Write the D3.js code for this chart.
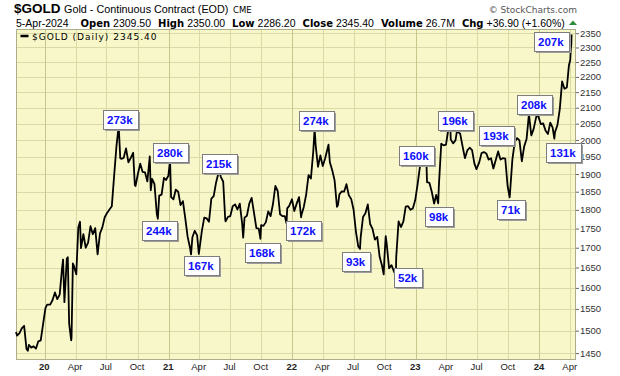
<!DOCTYPE html>
<html lang="en">
<head>
	<meta charset="UTF-8"/>
	<title>$GOLD Daily</title>
	<script src="https://d3js.org/d3.v7.min.js"></script>
	<style>
		body { margin: 0; background: #fff; }
		svg text { font-family: "Liberation Sans", Arial, sans-serif; }
	</style>
</head>
<body>
<svg id="chart"></svg>
<script>
	var w = 620;
	var h = 376;

	// weekly closes plus the daily highs/lows that matter
	var dates = [
		"2019-10-08","2019-10-11","2019-10-18","2019-10-25","2019-11-01","2019-11-08","2019-11-12","2019-11-15","2019-11-22","2019-11-29",
		"2019-12-06","2019-12-13","2019-12-20","2019-12-27",
		"2020-01-03","2020-01-08","2020-01-10","2020-01-17","2020-01-24","2020-01-31","2020-02-07","2020-02-14","2020-02-21","2020-02-24",
		"2020-02-28","2020-03-06","2020-03-09","2020-03-13","2020-03-19","2020-03-20","2020-03-24","2020-03-27","2020-04-03","2020-04-09",
		"2020-04-14","2020-04-17","2020-04-24","2020-05-01","2020-05-08","2020-05-15","2020-05-22","2020-05-29","2020-06-05","2020-06-12",
		"2020-06-19","2020-06-26","2020-07-02","2020-07-10","2020-07-17","2020-07-24","2020-07-31","2020-08-06","2020-08-07","2020-08-11",
		"2020-08-14","2020-08-21","2020-08-28","2020-09-04","2020-09-11","2020-09-18","2020-09-23","2020-09-25","2020-10-02","2020-10-09",
		"2020-10-16","2020-10-23","2020-10-30","2020-11-06","2020-11-09","2020-11-13","2020-11-20","2020-11-27","2020-11-30","2020-12-04",
		"2020-12-11","2020-12-18","2020-12-24","2020-12-31",
		"2021-01-05","2021-01-08","2021-01-15","2021-01-22","2021-01-29","2021-02-05","2021-02-12","2021-02-19","2021-02-26","2021-03-05",
		"2021-03-08","2021-03-12","2021-03-19","2021-03-26","2021-03-31","2021-04-09","2021-04-16","2021-04-23","2021-04-30","2021-05-07",
		"2021-05-14","2021-05-21","2021-05-28","2021-06-01","2021-06-04","2021-06-11","2021-06-17","2021-06-18","2021-06-25","2021-07-02",
		"2021-07-09","2021-07-16","2021-07-23","2021-07-30","2021-08-06","2021-08-09","2021-08-13","2021-08-20","2021-08-27","2021-09-03",
		"2021-09-10","2021-09-17","2021-09-24","2021-09-29","2021-10-01","2021-10-08","2021-10-15","2021-10-22","2021-10-29","2021-11-05",
		"2021-11-12","2021-11-19","2021-11-26","2021-12-03","2021-12-10","2021-12-15","2021-12-17","2021-12-23","2021-12-31",
		"2022-01-07","2022-01-14","2022-01-21","2022-01-27","2022-01-28","2022-02-04","2022-02-11","2022-02-18","2022-02-25","2022-03-04",
		"2022-03-08","2022-03-11","2022-03-18","2022-03-25","2022-04-01","2022-04-08","2022-04-18","2022-04-22","2022-04-29","2022-05-06",
		"2022-05-13","2022-05-16","2022-05-20","2022-05-27","2022-06-03","2022-06-10","2022-06-17","2022-06-24","2022-07-01","2022-07-08",
		"2022-07-15","2022-07-20","2022-07-22","2022-07-29","2022-08-05","2022-08-12","2022-08-19","2022-08-26","2022-09-02","2022-09-09",
		"2022-09-16","2022-09-23","2022-09-28","2022-09-30","2022-10-04","2022-10-07","2022-10-14","2022-10-21","2022-10-28","2022-11-03",
		"2022-11-04","2022-11-11","2022-11-18","2022-11-25","2022-12-02","2022-12-09","2022-12-16","2022-12-23","2022-12-30",
		"2023-01-06","2023-01-13","2023-01-20","2023-01-26","2023-02-01","2023-02-03","2023-02-10","2023-02-17","2023-02-24","2023-03-02",
		"2023-03-08","2023-03-10","2023-03-17","2023-03-24","2023-03-31","2023-04-06","2023-04-13","2023-04-14","2023-04-21","2023-04-28",
		"2023-05-04","2023-05-05","2023-05-12","2023-05-19","2023-05-26","2023-06-02","2023-06-09","2023-06-16","2023-06-23","2023-06-29",
		"2023-07-07","2023-07-14","2023-07-21","2023-07-28","2023-08-04","2023-08-11","2023-08-18","2023-08-25","2023-09-01","2023-09-08",
		"2023-09-15","2023-09-22","2023-09-29","2023-10-05","2023-10-06","2023-10-13","2023-10-20","2023-10-27","2023-11-03","2023-11-10",
		"2023-11-17","2023-11-24","2023-12-01","2023-12-08","2023-12-15","2023-12-22","2023-12-27","2023-12-29",
		"2024-01-05","2024-01-12","2024-01-19","2024-01-26","2024-02-02","2024-02-09","2024-02-14","2024-02-16","2024-02-23","2024-03-01",
		"2024-03-08","2024-03-15","2024-03-22","2024-03-28","2024-04-01","2024-04-02","2024-04-03","2024-04-04","2024-04-05"
	];
	var closes = [
		1497,1489,1494,1505,1511,1459,1455,1468,1462,1465,
		1460,1476,1478,1515,
		1552,1560,1560,1560,1571,1589,1573,1584,1648,1670,
		1566,1672,1676,1516,1478,1484,1660,1654,1633,1752,
		1768,1699,1735,1700,1713,1756,1735,1751,1683,1737,
		1753,1780,1790,1801,1810,1897,1985,2040,2028,1946,
		1944,1947,1975,1934,1947,1962,1868,1866,1900,1930,
		1906,1905,1879,1951,1854,1886,1871,1788,1776,1839,
		1842,1889,1883,1895,
		1940,1835,1829,1856,1850,1813,1824,1777,1728,1700,
		1683,1727,1744,1732,1684,1744,1779,1777,1768,1831,
		1838,1876,1903,1903,1892,1878,1774,1769,1781,1783,
		1810,1815,1801,1817,1763,1726,1779,1784,1817,1833,
		1792,1751,1750,1723,1759,1757,1767,1796,1783,1816,
		1866,1852,1788,1783,1783,1764,1804,1811,1829,
		1797,1817,1835,1780,1786,1808,1842,1897,1887,1966,
		2035,1985,1921,1954,1923,1945,1986,1934,1911,1882,
		1808,1813,1842,1851,1850,1871,1840,1830,1801,1742,
		1703,1697,1727,1781,1791,1815,1762,1749,1721,1728,
		1677,1655,1633,1672,1730,1709,1648,1656,1641,1630,
		1676,1769,1754,1768,1809,1810,1800,1804,1826,
		1870,1921,1928,1930,1942,1877,1875,1850,1817,1841,
		1818,1867,1989,1984,1986,2026,2040,2002,1990,1999,
		2037,2025,2019,1981,1946,1969,1977,1970,1930,1914,
		1933,1961,1964,1960,1942,1946,1916,1941,1966,1942,
		1946,1945,1866,1834,1845,1941,1994,2006,1999,1937,
		1981,2003,2080,2014,2034,2069,2083,2072,
		2049,2051,2029,2018,2053,2038,2004,2024,2045,2095,
		2185,2161,2165,2238,2257,2281,2300,2309,2345.4
	];

	var yTicks = [1450,1500,1550,1600,1650,1700,1750,1800,1850,1900,1950,2000,2050,2100,2150,2200,2250,2300,2350];

	// volume call-outs: text, anchor date, anchor price, box above or below the anchor
	var annLabels = ["273k","280k","215k","244k","167k","168k","172k","274k","93k","52k","160k","98k","196k","193k","71k","208k","131k","207k"];
	var annDates  = ["2020-08-03","2020-12-29","2021-05-25","2020-11-27","2021-03-31","2021-09-28","2022-01-27","2022-03-05","2022-07-10",
	                 "2022-12-13","2022-12-27","2023-03-14","2023-04-22","2023-08-20","2023-10-11","2023-12-09","2024-03-06","2024-01-28"];
	var annPrices = [2032,1932,1899,1776,1684,1717,1776,2028,1694,1654,1924,1813,2028,1981,1832,2078,1997,2283];
	var annSide   = ["up","up","up","down","down","down","down","up","down","down","up","down","up","up","down","up","down","up"];

	// header quote
	var quoteDate = "5-Apr-2024";
	var quoteKeys = ["Open","High","Low","Close","Volume","Chg"];
	var quoteVals = ["2309.50","2350.00","2286.20","2345.40","26.7M","+36.90 (+1.60%)"];

	var plotL = 16, plotR = 576, plotT = 29, plotB = 360;
	var parse = d3.timeParse("%Y-%m-%d");
	var data = dates.map(function(d, i) { return { date: parse(d), close: closes[i] }; });

	var xScale = d3.scaleTime()
		.domain([parse("2019-10-08"), parse("2024-04-18")])
		.range([plotL, plotR]);

	var yScale = d3.scaleLog()
		.domain([1435, 2365])
		.range([plotB, plotT]);

	var svg = d3.select("#chart")
		.attr("width", w)
		.attr("height", h);

	// plot background
	svg.append("rect")
		.attr("x", plotL).attr("y", plotT)
		.attr("width", plotR - plotL).attr("height", plotB - plotT)
		.attr("fill", "#f8f7c9");

	var quarters = xScale.ticks(d3.timeMonth.every(3));

	// grid
	svg.append("g").selectAll("line")
		.data(yTicks)
		.enter().append("line")
		.attr("x1", plotL).attr("x2", plotR)
		.attr("y1", function(d) { return Math.round(yScale(d)) + 0.5; })
		.attr("y2", function(d) { return Math.round(yScale(d)) + 0.5; })
		.attr("stroke", "#dadaa6");

	svg.append("g").selectAll("line")
		.data(quarters)
		.enter().append("line")
		.attr("x1", function(d) { return Math.round(xScale(d)) + 0.5; })
		.attr("x2", function(d) { return Math.round(xScale(d)) + 0.5; })
		.attr("y1", plotT).attr("y2", plotB)
		.attr("stroke", function(d) { return d.getMonth() === 0 ? "#c6c68e" : "#dadaa6"; });

	svg.append("rect")
		.attr("x", plotL + 0.5).attr("y", plotT + 0.5)
		.attr("width", plotR - plotL - 1).attr("height", plotB - plotT - 1)
		.attr("fill", "none")
		.attr("stroke", "#adad8c");

	// price line
	var line = d3.line()
		.x(function(d) { return xScale(d.date); })
		.y(function(d) { return yScale(d.close); });

	svg.append("path")
		.datum(data)
		.attr("d", line)
		.attr("fill", "none")
		.attr("stroke", "#000")
		.attr("stroke-width", 1.8)
		.attr("stroke-linejoin", "round");

	// axes
	var yAxis = d3.axisRight(yScale)
		.tickValues(yTicks)
		.tickSize(3)
		.tickPadding(1)
		.tickFormat(d3.format("d"));

	var gy = svg.append("g")
		.attr("transform", "translate(" + plotR + ",0)")
		.call(yAxis);
	gy.select(".domain").remove();
	gy.selectAll("line").attr("stroke", "#666");
	gy.selectAll("text").attr("fill", "#333").style("font-size", "9.5px");

	var xAxis = d3.axisBottom(xScale)
		.tickValues(quarters)
		.tickSize(0)
		.tickPadding(3)
		.tickFormat(function(d) { return d.getMonth() === 0 ? d3.timeFormat("%y")(d) : d3.timeFormat("%b")(d); });

	var gx = svg.append("g")
		.attr("transform", "translate(-1," + plotB + ")")
		.call(xAxis);
	gx.select(".domain").remove();
	gx.selectAll("text")
		.attr("fill", "#222")
		.style("font-size", "9.5px")
		.style("font-weight", function(d) { return d.getMonth() === 0 ? "bold" : "normal"; });

	// legend
	svg.append("line")
		.attr("x1", 20.5).attr("x2", 28.5)
		.attr("y1", 36).attr("y2", 36)
		.attr("stroke", "#000").attr("stroke-width", 2.5);
	svg.append("text")
		.attr("x", 32).attr("y", 39.5)
		.style("font-family", "'DejaVu Sans', sans-serif")
		.style("font-size", "9px")
		.style("letter-spacing", "1px")
		.attr("fill", "#000")
		.text("$GOLD (Daily) 2345.40");

	// volume call-outs
	var ann = svg.append("g");
	annLabels.forEach(function(lab, i) {
		var ax = xScale(parse(annDates[i]));
		var ay = yScale(annPrices[i]);
		var g = ann.append("g");
		var t = g.append("text")
			.text(lab)
			.style("font-size", "11.5px")
			.style("font-weight", "bold")
			.attr("fill", "#1010ff");
		var bw = Math.round(t.node().getComputedTextLength() + 9);
		var bh = 19;
		var bx = Math.round(ax - 15);
		var by = annSide[i] === "up" ? Math.round(ay - 1 - bh) : Math.round(ay + 2);
		g.insert("rect", "text")
			.attr("x", bx + 2).attr("y", by + 2)
			.attr("width", bw).attr("height", bh)
			.attr("fill", "#9c9c9c");
		g.insert("rect", "text")
			.attr("x", bx + 0.5).attr("y", by + 0.5)
			.attr("width", bw).attr("height", bh)
			.attr("fill", "#fff")
			.attr("stroke", "#7d7d7d");
		t.attr("x", bx + 4).attr("y", by + 13.5);
	});

	// header
	svg.append("text")
		.attr("x", 14).attr("y", 13)
		.style("font-size", "13.5px").style("font-weight", "bold")
		.attr("fill", "#000")
		.text("$GOLD");
	svg.append("text")
		.attr("x", 64).attr("y", 13)
		.style("font-size", "10.8px")
		.attr("fill", "#000")
		.text("Gold - Continuous Contract (EOD)");
	svg.append("text")
		.attr("x", 233).attr("y", 13)
		.style("font-family", "'DejaVu Sans', sans-serif")
		.style("font-size", "8.5px")
		.attr("fill", "#000")
		.text("CME");
	svg.append("text")
		.attr("x", 577).attr("y", 13)
		.attr("text-anchor", "end")
		.style("font-family", "'DejaVu Sans', sans-serif")
		.style("font-size", "9px")
		.attr("fill", "#555")
		.text("\u00a9 StockCharts.com");

	var q = svg.append("text")
		.attr("x", 16).attr("y", 26.5)
		.style("font-size", "10.5px")
		.attr("fill", "#000");
	q.append("tspan").text(quoteDate);
	quoteKeys.forEach(function(k, i) {
		q.append("tspan")
			.attr("dx", i === 0 ? 12 : 7)
			.style("font-family", "'DejaVu Sans', sans-serif")
			.style("font-weight", "bold")
			.style("font-size", "10px")
			.text(k);
		q.append("tspan").attr("dx", 3).text(quoteVals[i]);
	});

	svg.append("path")
		.attr("d", "M569,25L573,20.5L577,25Z")
		.attr("fill", "#2e8b3a");
</script>
</body>
</html>
